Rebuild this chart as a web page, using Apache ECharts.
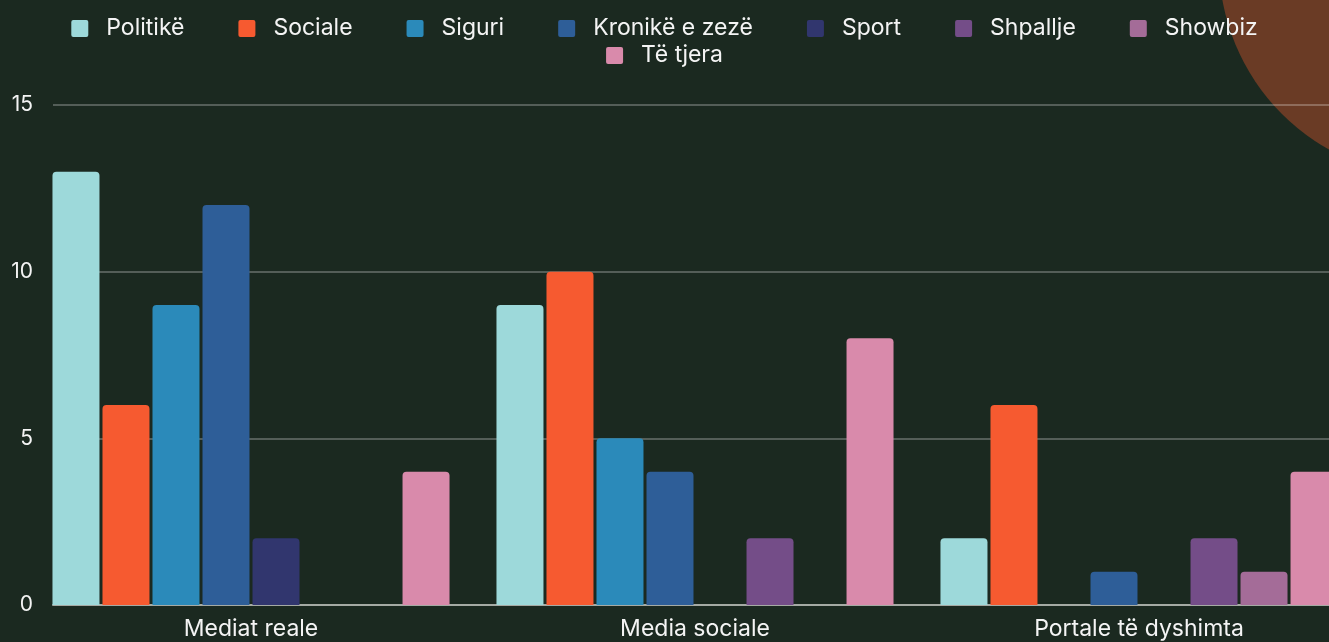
<!DOCTYPE html>
<html>
<head>
<meta charset="utf-8">
<script src="https://cdn.jsdelivr.net/npm/echarts@6/dist/echarts.min.js"></script>
<style>
  html, body { margin: 0; padding: 0; background: #1b2920; }
  #main { width: 1329px; height: 642px; }
</style>
</head>
<body>
<div id="main"></div>
<script>
var categories = ['Mediat reale', 'Media sociale', 'Portale të dyshimta'];
var seriesNames = ['Politikë', 'Sociale', 'Siguri', 'Kronikë e zezë', 'Sport', 'Shpallje', 'Showbiz', 'Të tjera'];
var politike = [13, 9, 2];
var sociale = [6, 10, 6];
var siguri = [9, 5, 0];
var kronike = [12, 4, 1];
var sport = [2, 0, 0];
var shpallje = [0, 2, 2];
var showbiz = [0, 0, 1];
var teTjera = [4, 8, 4];
var yTicks = [0, 5, 10, 15];

var colors = ['#9dd9da', '#f65a30', '#2b8aba', '#2e5e98', '#31366e', '#744d88', '#a46c98', '#d98aab'];
var values = [politike, sociale, siguri, kronike, sport, shpallje, showbiz, teTjera];

var myChart = echarts.init(document.getElementById('main'));

var font = 'Inter, "Noto Sans", sans-serif';
// square with small rounded corners, like the legend boxes in the original
var boxIcon = 'path://M2,0 H15 A2,2 0 0 1 17,2 V15 A2,2 0 0 1 15,17 H2 A2,2 0 0 1 0,15 V2 A2,2 0 0 1 2,0 Z';

var series = [];
for (var i = 0; i < seriesNames.length; i++) {
    series.push({
        name: seriesNames[i],
        type: 'bar',
        xAxisIndex: 0,
        yAxisIndex: 0,
        barWidth: 47,
        barGap: '6.4%',
        itemStyle: { color: colors[i], borderRadius: [4, 4, 0, 0] },
        data: values[i]
    });
}

var legendBase = {
    left: 'center',
    itemWidth: 17,
    itemHeight: 17,
    itemGap: 54,
    icon: boxIcon,
    textStyle: { color: '#f4f4f4', fontSize: 23, fontFamily: font, padding: [0, 0, 0, 13] }
};

var option = {
    backgroundColor: '#1b2920',
    animation: false,
    graphic: {
        elements: [{
            type: 'circle',
            z: -10,
            silent: true,
            shape: { cx: 1434, cy: -38, r: 215 },
            style: { fill: '#6a3b25' }
        }]
    },
    legend: [
        Object.assign({}, legendBase, { top: 12, data: seriesNames.slice(0, 7) }),
        Object.assign({}, legendBase, { top: 39, data: seriesNames.slice(7) })
    ],
    grid: [
        // data grid, wider than the page on the right like the original
        { left: 29, top: 105, width: 1332, height: 500, outerBoundsMode: 'none' },
        // axis grid: split lines and base line start at x=53
        { left: 53, top: 105, width: 1320, height: 500, outerBoundsMode: 'none' }
    ],
    xAxis: [
        {
            type: 'category',
            gridIndex: 0,
            data: categories,
            axisLine: { show: false },
            axisTick: { show: false },
            axisLabel: { color: '#f4f4f4', fontSize: 23, fontFamily: font, margin: 13 }
        },
        {
            type: 'value',
            gridIndex: 1,
            min: 0,
            max: 1,
            axisLine: { show: true, lineStyle: { color: '#a5aaa4', width: 2 } },
            axisTick: { show: false },
            axisLabel: { show: false },
            splitLine: { show: false }
        }
    ],
    yAxis: [
        {
            type: 'value',
            gridIndex: 0,
            min: yTicks[0],
            max: yTicks[yTicks.length - 1],
            interval: 5,
            show: false
        },
        {
            type: 'value',
            gridIndex: 1,
            min: yTicks[0],
            max: yTicks[yTicks.length - 1],
            interval: 5,
            axisLine: { show: false },
            axisTick: { show: false },
            axisLabel: { color: '#f4f4f4', fontSize: 21, fontFamily: font, margin: 20 },
            splitLine: { lineStyle: { color: 'rgba(255,255,255,0.25)', width: 2 } }
        }
    ],
    series: series
};

myChart.setOption(option);
</script>
</body>
</html>
